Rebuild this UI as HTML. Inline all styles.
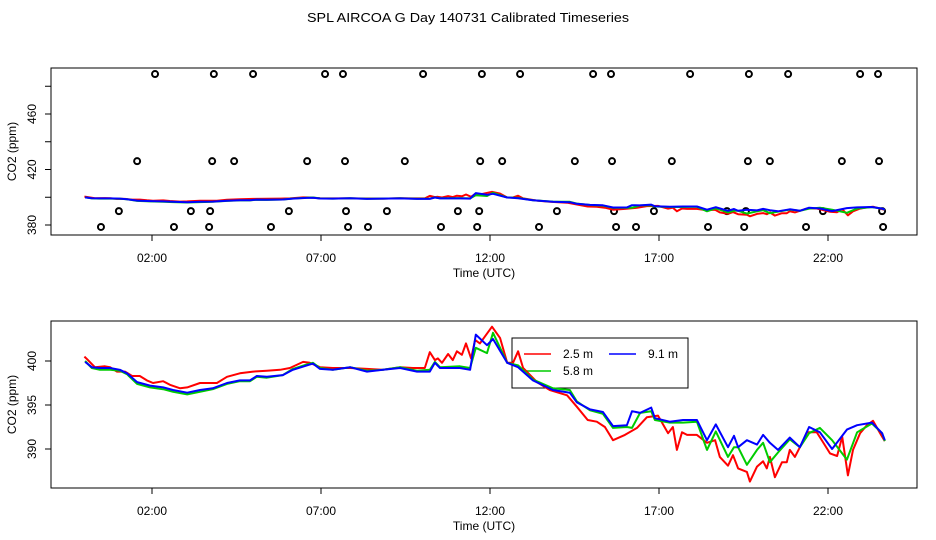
<!DOCTYPE html>
<html><head><meta charset="utf-8"><style>
html,body{margin:0;padding:0;background:#fff;}
svg{display:block;font-family:"Liberation Sans",sans-serif;}
</style></head><body>
<svg id="chart" width="936" height="540" viewBox="0 0 936 540" xmlns="http://www.w3.org/2000/svg">
<rect x="0" y="0" width="936" height="540" fill="#fff"/>
<text x="468" y="22" font-size="12.5" text-anchor="middle" textLength="322" lengthAdjust="spacingAndGlyphs">SPL AIRCOA G  Day 140731  Calibrated Timeseries</text>
<g id="top"></g>
<g id="bot"></g>
</svg>
<script>
const redT=[0.0,0.08,0.31,0.61,0.76,0.96,1.2,1.41,1.64,1.85,2.03,2.33,2.53,2.83,3.04,3.42,3.92,4.22,4.6,4.99,5.4,5.79,6.08,6.47,6.67,6.97,7.35,7.86,8.36,8.83,9.34,9.72,10.07,10.22,10.37,10.46,10.58,10.76,10.9,11.02,11.17,11.29,11.44,11.56,11.7,12.06,12.3,12.51,12.68,12.83,12.98,13.39,13.77,14.28,14.57,14.89,15.16,15.4,15.64,15.99,16.35,16.64,16.97,17.27,17.41,17.53,17.68,17.83,18.12,18.42,18.66,18.8,19.04,19.19,19.34,19.6,19.69,19.9,20.08,20.19,20.28,20.43,20.64,20.78,20.87,21.02,21.17,21.38,21.67,21.85,22.06,22.27,22.42,22.59,22.74,22.95,23.15,23.33,23.54,23.68];
const redV=[400.5,400.2,399.3,399.4,399.3,398.8,398.8,398.3,398.3,397.8,397.5,397.7,397.3,396.9,397.0,397.5,397.5,398.2,398.6,398.8,398.9,399.0,399.2,399.9,399.8,399.3,399.2,399.2,399.1,399.0,399.3,399.2,399.2,401.0,400.1,400.3,399.8,400.8,400.1,401.1,400.7,402.0,400.3,402.4,402.0,403.9,402.6,399.8,399.8,401.1,399.2,397.6,396.7,396.1,394.8,393.3,393.1,392.5,391.0,391.6,392.4,393.6,393.8,391.8,392.5,389.9,391.9,391.6,391.6,390.7,391.0,389.1,388.1,389.3,387.8,387.4,386.3,388.0,388.6,387.8,389.1,386.8,388.5,388.5,389.9,389.1,390.2,391.9,391.9,390.8,389.5,389.2,391.4,387.0,389.9,391.8,392.7,393.2,391.8,390.9];
const blueT=[0.02,0.22,0.46,0.76,1.05,1.26,1.56,1.94,2.33,2.62,3.04,3.42,3.8,4.22,4.6,4.9,5.1,5.4,5.87,6.17,6.58,6.76,6.97,7.35,7.86,8.36,8.83,9.34,9.84,10.22,10.37,10.52,11.11,11.41,11.58,11.91,12.09,12.51,12.83,13.27,13.86,14.36,14.57,14.96,15.34,15.64,16.05,16.2,16.44,16.77,16.88,17.32,17.71,18.12,18.42,18.68,19.04,19.22,19.34,19.6,19.9,20.08,20.28,20.52,20.87,21.17,21.44,21.76,22.12,22.56,22.86,23.3,23.6,23.68];
const blueV=[399.9,399.3,399.2,399.2,399.0,398.6,397.6,397.2,397.0,396.7,396.4,396.7,396.9,397.5,397.8,397.8,398.3,398.2,398.4,399.0,399.5,399.7,399.1,399.0,399.3,398.8,399.0,399.2,398.8,398.8,399.8,399.2,399.2,399.0,403.0,401.8,402.5,399.8,399.3,397.8,396.7,396.4,395.3,394.5,394.2,392.6,392.7,394.3,394.1,394.7,393.5,393.1,393.3,393.3,391.0,392.8,390.2,391.5,390.2,391.0,390.5,391.6,390.7,389.9,391.3,390.2,392.5,391.9,390.0,392.2,392.7,393.0,391.8,391.0];
const greenT=blueT;
const greenV=[400.0,399.2,399.0,399.0,398.9,398.5,397.4,397.0,396.8,396.5,396.2,396.5,396.8,397.4,397.7,397.7,398.2,398.1,398.4,399.1,399.6,399.8,399.2,399.0,399.3,398.9,399.0,399.3,398.9,399.0,399.9,399.3,399.4,399.2,401.5,400.9,403.2,399.8,399.5,397.9,396.9,396.7,395.4,394.4,394.0,392.4,392.5,392.4,394.1,394.3,393.3,393.0,393.0,393.1,389.9,392.0,389.1,390.2,390.2,388.2,389.9,390.7,388.5,389.6,391.1,390.2,391.8,392.4,391.0,388.8,391.9,392.9,391.8,390.9];
const circT=[2.09,3.83,4.99,7.12,7.65,10.02,11.76,12.89,15.05,15.58,17.92,19.66,20.82,22.95,23.48,1.56,3.78,4.43,6.59,7.71,9.48,11.71,12.36,14.51,15.61,17.38,19.63,20.28,22.41,23.51,1.02,3.15,3.72,6.05,7.74,8.95,11.05,11.68,13.98,15.67,16.85,19.01,19.57,21.85,23.6,0.49,2.65,3.69,5.52,7.8,8.39,10.55,11.62,13.45,15.73,16.32,18.45,19.52,21.35,23.63];
const circV=[488.8,488.8,488.8,488.8,488.8,488.8,488.8,488.8,488.8,488.8,488.8,488.8,488.8,488.8,488.8,426,426,426,426,426,426,426,426,426,426,426,426,426,426,426,390,390,390,390,390,390,390,390,390,390,390,390,390,390,390,378.6,378.6,378.6,378.6,378.6,378.6,378.6,378.6,378.6,378.6,378.6,378.6,378.6,378.6,378.6];
const xTickH=[2,7,12,17,22];
const xTickL=["02:00","07:00","12:00","17:00","22:00"];
const topTicks=[380,400,420,440,460,480];
const topLabels=[380,420,460];
const botTicks=[390,395,400];
const legendNames=["2.5 m","5.8 m","9.1 m"];

const NS="http://www.w3.org/2000/svg";
const X0=51,X1=917;
const xs=h=>84.4+h*33.8;
function mk(p,tag,attrs){const e=document.createElementNS(NS,tag);for(const k in attrs)e.setAttribute(k,attrs[k]);p.appendChild(e);return e;}
function panel(g,top,bot,ys,ticks,labels,pfx){
  const box=mk(g,'rect',{x:X0,y:top,width:X1-X0,height:bot-top,fill:'none',stroke:'#000','stroke-width':1});
  
  
  xTickH.forEach((h,i)=>{
    const t=mk(g,'line',{x1:xs(h),x2:xs(h),y1:bot,y2:bot+6,stroke:'#000'});
    
    
    const l=mk(g,'text',{x:xs(h),y:bot+27,'font-size':12,'text-anchor':'middle'});
    l.textContent=xTickL[i];
    
    
  });
  const xt=mk(g,'text',{x:484,y:bot+42,'font-size':12,'text-anchor':'middle'});
  xt.textContent='Time (UTC)';
  
  
  ticks.forEach(v=>{
    const t=mk(g,'line',{x1:X0-6,x2:X0,y1:ys(v),y2:ys(v),stroke:'#000'});
    
    
  });
  labels.forEach(v=>{
    const l=mk(g,'text',{x:0,y:0,'font-size':12,'text-anchor':'middle',transform:`translate(36,${ys(v)}) rotate(-90)`});
    l.textContent=v;
    
    
  });
  const yt=mk(g,'text',{x:0,y:0,'font-size':12,'text-anchor':'middle',transform:`translate(16,${(top+bot)/2}) rotate(-90)`});
  yt.textContent='CO2 (ppm)';
  
  
}
function series(g,T,V,ys,col,name){
  const d=T.map((t,i)=>(i?'L':'M')+xs(t).toFixed(1)+','+ys(V[i]).toFixed(1)).join('');
  const p=mk(g,'path',{d:d,fill:'none',stroke:col,'stroke-width':2,'stroke-linejoin':'round'});
  
  
}
// top panel
const gt=document.getElementById('top');
const ysT=v=>225-(v-380)*1.3875;
panel(gt,68,235,ysT,topTicks,topLabels,'top');
circT.forEach((t,i)=>{
  const c=mk(gt,'circle',{cx:xs(t),cy:ysT(circV[i]),r:3,fill:'none',stroke:'#000','stroke-width':2});
  
  
});
series(gt,redT,redV,ysT,'#ff0000','top-line-2-5m');
series(gt,greenT,greenV,ysT,'#00cc00','top-line-5-8m');
series(gt,blueT,blueV,ysT,'#0000ff','top-line-9-1m');
// bottom panel
const gb=document.getElementById('bot');
const ysB=v=>361-(v-400)*8.8;
panel(gb,321,488,ysB,botTicks,botTicks,'bottom');
// legend (drawn beneath lines, unfilled)
const lg=mk(gb,'g',{});


const lb=mk(lg,'rect',{x:512,y:338,width:176,height:50,fill:'none',stroke:'#000'});


const entries=[[524,354,'#ff0000',legendNames[0]],[524,371,'#00cc00',legendNames[1]],[609,354,'#0000ff',legendNames[2]]];
entries.forEach(e=>{
  const ln=mk(lg,'line',{x1:e[0],x2:e[0]+27,y1:e[1],y2:e[1],stroke:e[2],'stroke-width':1.5});
  
  
  const tx=mk(lg,'text',{x:e[0]+39,y:e[1]+4,'font-size':12});
  tx.textContent=e[3];
  
  
});
series(gb,redT,redV,ysB,'#ff0000','bottom-line-2-5m');
series(gb,greenT,greenV,ysB,'#00cc00','bottom-line-5-8m');
series(gb,blueT,blueV,ysB,'#0000ff','bottom-line-9-1m');
</script>
</body></html>
